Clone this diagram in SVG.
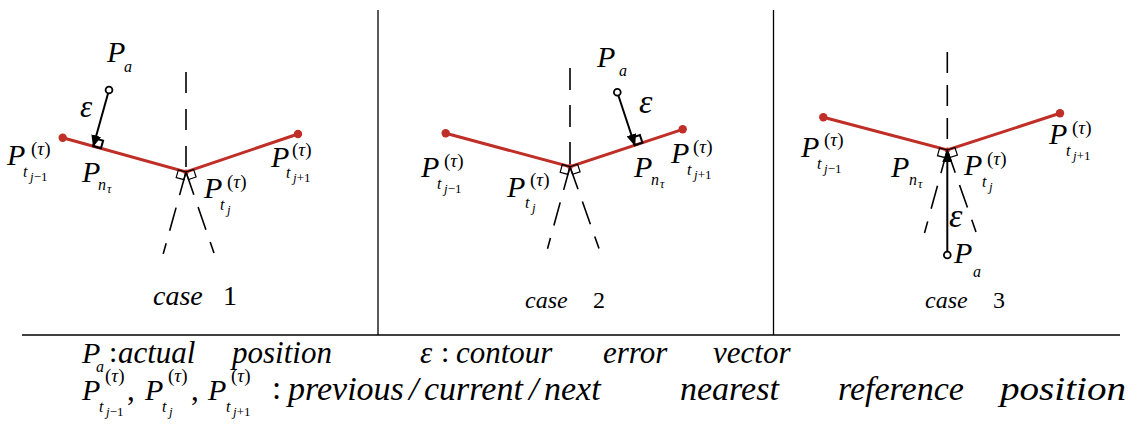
<svg xmlns="http://www.w3.org/2000/svg" width="1132" height="438" viewBox="0 0 1132 438" font-family="'Liberation Serif', 'Times New Roman', 'DejaVu Serif', serif">
<style>
text{font-family:"Liberation Serif","Times New Roman","DejaVu Serif",serif;fill:#000}
.i{font-style:italic}
.P{font-style:italic;font-size:30px}
.sup{font-size:19px}
.sub{font-style:italic;font-size:16px}
.sub2{font-size:13px}
.seg{stroke:#bf2f27;stroke-width:3;fill:none;stroke-linecap:round}
.dot{fill:#bf2f27}
.dash{stroke:#000;stroke-width:1.6;fill:none}
.sq{stroke:#000;stroke-width:1.2;fill:none}
.sqb{stroke:#000;stroke-width:2;fill:none}
.arr{stroke:#000;stroke-width:2;fill:none}
.pa{fill:#fff;stroke:#000;stroke-width:1.8}
.frame{stroke:#000;stroke-width:1.3;fill:none}
.leg{font-style:italic;font-size:31px}
.leg2{font-style:italic;font-size:34px}
</style>
<defs>
<marker id="ah" markerUnits="userSpaceOnUse" markerWidth="12" markerHeight="10" refX="11" refY="5" orient="auto">
<path d="M0,0 L12,5 L0,10 Z" fill="#000"/>
</marker>
</defs>

<g id="frame">
<line class="frame" x1="22" y1="335" x2="1120" y2="335"/>
<line class="frame" x1="378" y1="10" x2="378" y2="335"/>
<line class="frame" x1="773.5" y1="10" x2="773.5" y2="335"/>
</g>

<g id="connectors">
<line class="dash" x1="186" y1="72" x2="186" y2="172" stroke-dasharray="21 16"/>
<line class="dash" x1="186" y1="172" x2="163.2" y2="253.9" stroke-dasharray="24 13"/>
<line class="dash" x1="186" y1="172" x2="214" y2="253" stroke-dasharray="24 13"/>
<polyline class="seg" points="62.7,137.7 186,172 298,134"/>
<line class="arr" x1="109" y1="90" x2="93.3" y2="146.2" marker-end="url(#ah)"/>
<line class="dash" x1="570" y1="68" x2="570" y2="166.7" stroke-dasharray="22 15"/>
<line class="dash" x1="570" y1="166.7" x2="547.5" y2="248.8" stroke-dasharray="24 13"/>
<line class="dash" x1="570" y1="166.7" x2="599" y2="248.5" stroke-dasharray="24 13"/>
<polyline class="seg" points="445.7,133.3 570,166.7 682.7,129.3"/>
<line class="arr" x1="617.3" y1="92.3" x2="634.8" y2="145.2" marker-end="url(#ah)"/>
<line class="dash" x1="947.3" y1="52" x2="947.3" y2="150" stroke-dasharray="21 12"/>
<line class="dash" x1="947.3" y1="150" x2="924.5" y2="233" stroke-dasharray="24 13"/>
<line class="dash" x1="947.3" y1="150" x2="976" y2="232" stroke-dasharray="24 13"/>
<polyline class="seg" points="823.3,117.3 947.3,150 1060,113.3"/>
<line class="arr" x1="947.3" y1="255" x2="947.3" y2="151" marker-end="url(#ah)"/>
</g>

<g id="case1">
<circle class="dot" cx="62.7" cy="137.7" r="4.2"/>
<circle class="dot" cx="298" cy="134" r="4.2"/>
<circle class="dot" cx="186" cy="172" r="2.6"/>
<polygon class="sq" points="186,172 178.3,169.9 176.2,177.6 183.9,179.7"/>
<polygon class="sq" points="186,172 193.6,169.4 196.1,177 188.6,179.6"/>
<polygon class="sqb" points="93.3,146.2 101,148.3 103.1,140.6 95.4,138.5"/>
<circle class="pa" cx="109" cy="90" r="3.4"/>
<g id="c1-Pa"><text class="P" x="107" y="62">P</text><text class="sub" x="124" y="72" font-size="19">a</text></g>
<text class="i" x="80" y="117" font-size="31">ε</text>
<g id="c1-Pn"><text class="P" x="82" y="182">P</text><text class="sub" x="98" y="190">n</text><text class="i" x="107" y="193" font-size="12">τ</text></g>
<g id="c1-Ptjm1"><text class="P" x="7" y="165">P</text><text class="sup" x="31" y="155">(<tspan class="i">τ</tspan>)</text><text class="sub" x="23" y="177">t</text><text class="sub2" x="30" y="181"><tspan class="i">j</tspan>−1</text></g>
<g id="c1-Ptj"><text class="P" x="204" y="198">P</text><text class="sup" x="227" y="188">(<tspan class="i">τ</tspan>)</text><text class="sub" x="220" y="210">t</text><text class="sub2" x="227" y="214"><tspan class="i">j</tspan></text></g>
<g id="c1-Ptjp1"><text class="P" x="271" y="167">P</text><text class="sup" x="292" y="156">(<tspan class="i">τ</tspan>)</text><text class="sub" x="286" y="178">t</text><text class="sub2" x="293" y="182"><tspan class="i">j</tspan>+1</text></g>
<g id="c1-caption"><text class="i" x="153" y="305" font-size="28">case</text><text x="223" y="305" font-size="28">1</text></g>
</g>

<g id="case2">
<circle class="dot" cx="445.7" cy="133.3" r="4.2"/>
<circle class="dot" cx="682.7" cy="129.3" r="4.2"/>
<circle class="dot" cx="570" cy="166.7" r="2.6"/>
<polygon class="sq" points="570,166.7 562.3,164.6 560.2,172.3 567.9,174.4"/>
<polygon class="sq" points="570,166.7 577.6,164.2 580.1,171.8 572.5,174.3"/>
<polygon class="sqb" points="634.8,145.2 642.4,142.7 639.9,135.1 632.3,137.6"/>
<circle class="pa" cx="617.3" cy="92.3" r="3.4"/>
<g id="c2-Pa"><text class="P" x="597" y="67" font-size="34">P</text><text class="sub" x="619" y="76" font-size="21">a</text></g>
<text class="i" x="639" y="113" font-size="34">ε</text>
<g id="c2-Pn"><text class="P" x="634" y="177">P</text><text class="sub" x="651" y="185">n</text><text class="i" x="660" y="188" font-size="12">τ</text></g>
<g id="c2-Ptjm1"><text class="P" x="421" y="177">P</text><text class="sup" x="444" y="167">(<tspan class="i">τ</tspan>)</text><text class="sub" x="437" y="189">t</text><text class="sub2" x="444" y="193"><tspan class="i">j</tspan>−1</text></g>
<g id="c2-Ptj"><text class="P" x="507" y="197">P</text><text class="sup" x="530" y="186">(<tspan class="i">τ</tspan>)</text><text class="sub" x="525" y="208">t</text><text class="sub2" x="532" y="212"><tspan class="i">j</tspan></text></g>
<g id="c2-Ptjp1"><text class="P" x="671" y="163">P</text><text class="sup" x="693" y="153">(<tspan class="i">τ</tspan>)</text><text class="sub" x="687" y="175">t</text><text class="sub2" x="694" y="179"><tspan class="i">j</tspan>+1</text></g>
<g id="c2-caption"><text class="i" x="525" y="308" font-size="24">case</text><text x="593" y="308" font-size="24">2</text></g>
</g>

<g id="case3">
<circle class="dot" cx="823.3" cy="117.3" r="4.2"/>
<circle class="dot" cx="1060" cy="113.3" r="4.2"/>
<circle class="dot" cx="947.3" cy="150" r="2.6"/>
<polygon class="sq" points="947.3,150 939.6,148 937.5,155.7 945.3,157.7"/>
<polygon class="sq" points="947.3,150 954.9,147.5 957.4,155.1 949.8,157.6"/>
<circle class="pa" cx="947.3" cy="255" r="3.4"/>
<g id="c3-Pa"><text class="P" x="954" y="263">P</text><text class="sub" x="973" y="277" font-size="19">a</text></g>
<text class="i" x="949" y="227" font-size="34">ε</text>
<g id="c3-Pn"><text class="P" x="891" y="177">P</text><text class="sub" x="909" y="185">n</text><text class="i" x="918" y="188" font-size="12">τ</text></g>
<g id="c3-Ptjm1"><text class="P" x="801" y="157">P</text><text class="sup" x="824" y="146">(<tspan class="i">τ</tspan>)</text><text class="sub" x="817" y="169">t</text><text class="sub2" x="824" y="173"><tspan class="i">j</tspan>−1</text></g>
<g id="c3-Ptj"><text class="P" x="964" y="175">P</text><text class="sup" x="987" y="165">(<tspan class="i">τ</tspan>)</text><text class="sub" x="982" y="187">t</text><text class="sub2" x="989" y="191"><tspan class="i">j</tspan></text></g>
<g id="c3-Ptjp1"><text class="P" x="1049" y="144">P</text><text class="sup" x="1072" y="134">(<tspan class="i">τ</tspan>)</text><text class="sub" x="1066" y="156">t</text><text class="sub2" x="1073" y="160"><tspan class="i">j</tspan>+1</text></g>
<g id="c3-caption"><text class="i" x="925" y="308" font-size="24">case</text><text x="993" y="308" font-size="24">3</text></g>
</g>

<g id="legend">
<g id="leg1">
<text class="P" x="82" y="363" font-size="31">P</text><text class="sub" x="96" y="372" font-size="16">a</text>
<text x="109" y="362" font-size="30">:</text>
<text class="leg" x="118" y="363">actual</text>
<text class="leg" x="232" y="363">position</text>
<text class="leg" x="420" y="363">ε</text>
<text x="441" y="362" font-size="30">:</text>
<text class="leg" x="456" y="363">contour</text>
<text class="leg" x="603" y="363">error</text>
<text class="leg" x="713" y="363">vector</text>
</g>
<g id="leg2">
<text class="P" x="82" y="400" font-size="33">P</text><text class="sup" x="105" y="382">(<tspan class="i">τ</tspan>)</text><text class="sub" x="99" y="412" font-size="15">t</text><text class="sub2" x="106" y="416" font-size="12"><tspan class="i">j</tspan>−1</text>
<text x="127" y="400" font-size="31">,</text>
<text class="P" x="145" y="400" font-size="33">P</text><text class="sup" x="168" y="382">(<tspan class="i">τ</tspan>)</text><text class="sub" x="162" y="412" font-size="15">t</text><text class="sub2" x="169" y="416" font-size="12"><tspan class="i">j</tspan></text>
<text x="191" y="400" font-size="31">,</text>
<text class="P" x="208" y="400" font-size="33">P</text><text class="sup" x="231" y="382">(<tspan class="i">τ</tspan>)</text><text class="sub" x="226" y="412" font-size="15">t</text><text class="sub2" x="233" y="416" font-size="12"><tspan class="i">j</tspan>+1</text>
<text x="272" y="399" font-size="33">:</text>
<text class="leg2" x="288" y="400">previous</text>
<text class="leg2" x="409" y="400">/</text>
<text class="leg2" x="424" y="400">current</text>
<text class="leg2" x="529" y="400">/</text>
<text class="leg2" x="544" y="400">next</text>
<text class="leg2" x="680" y="400">nearest</text>
<text class="leg2" x="838" y="400">reference</text>
<text class="leg2" x="1000" y="400" textLength="126" lengthAdjust="spacingAndGlyphs">position</text>
</g>
</g>
</svg>
